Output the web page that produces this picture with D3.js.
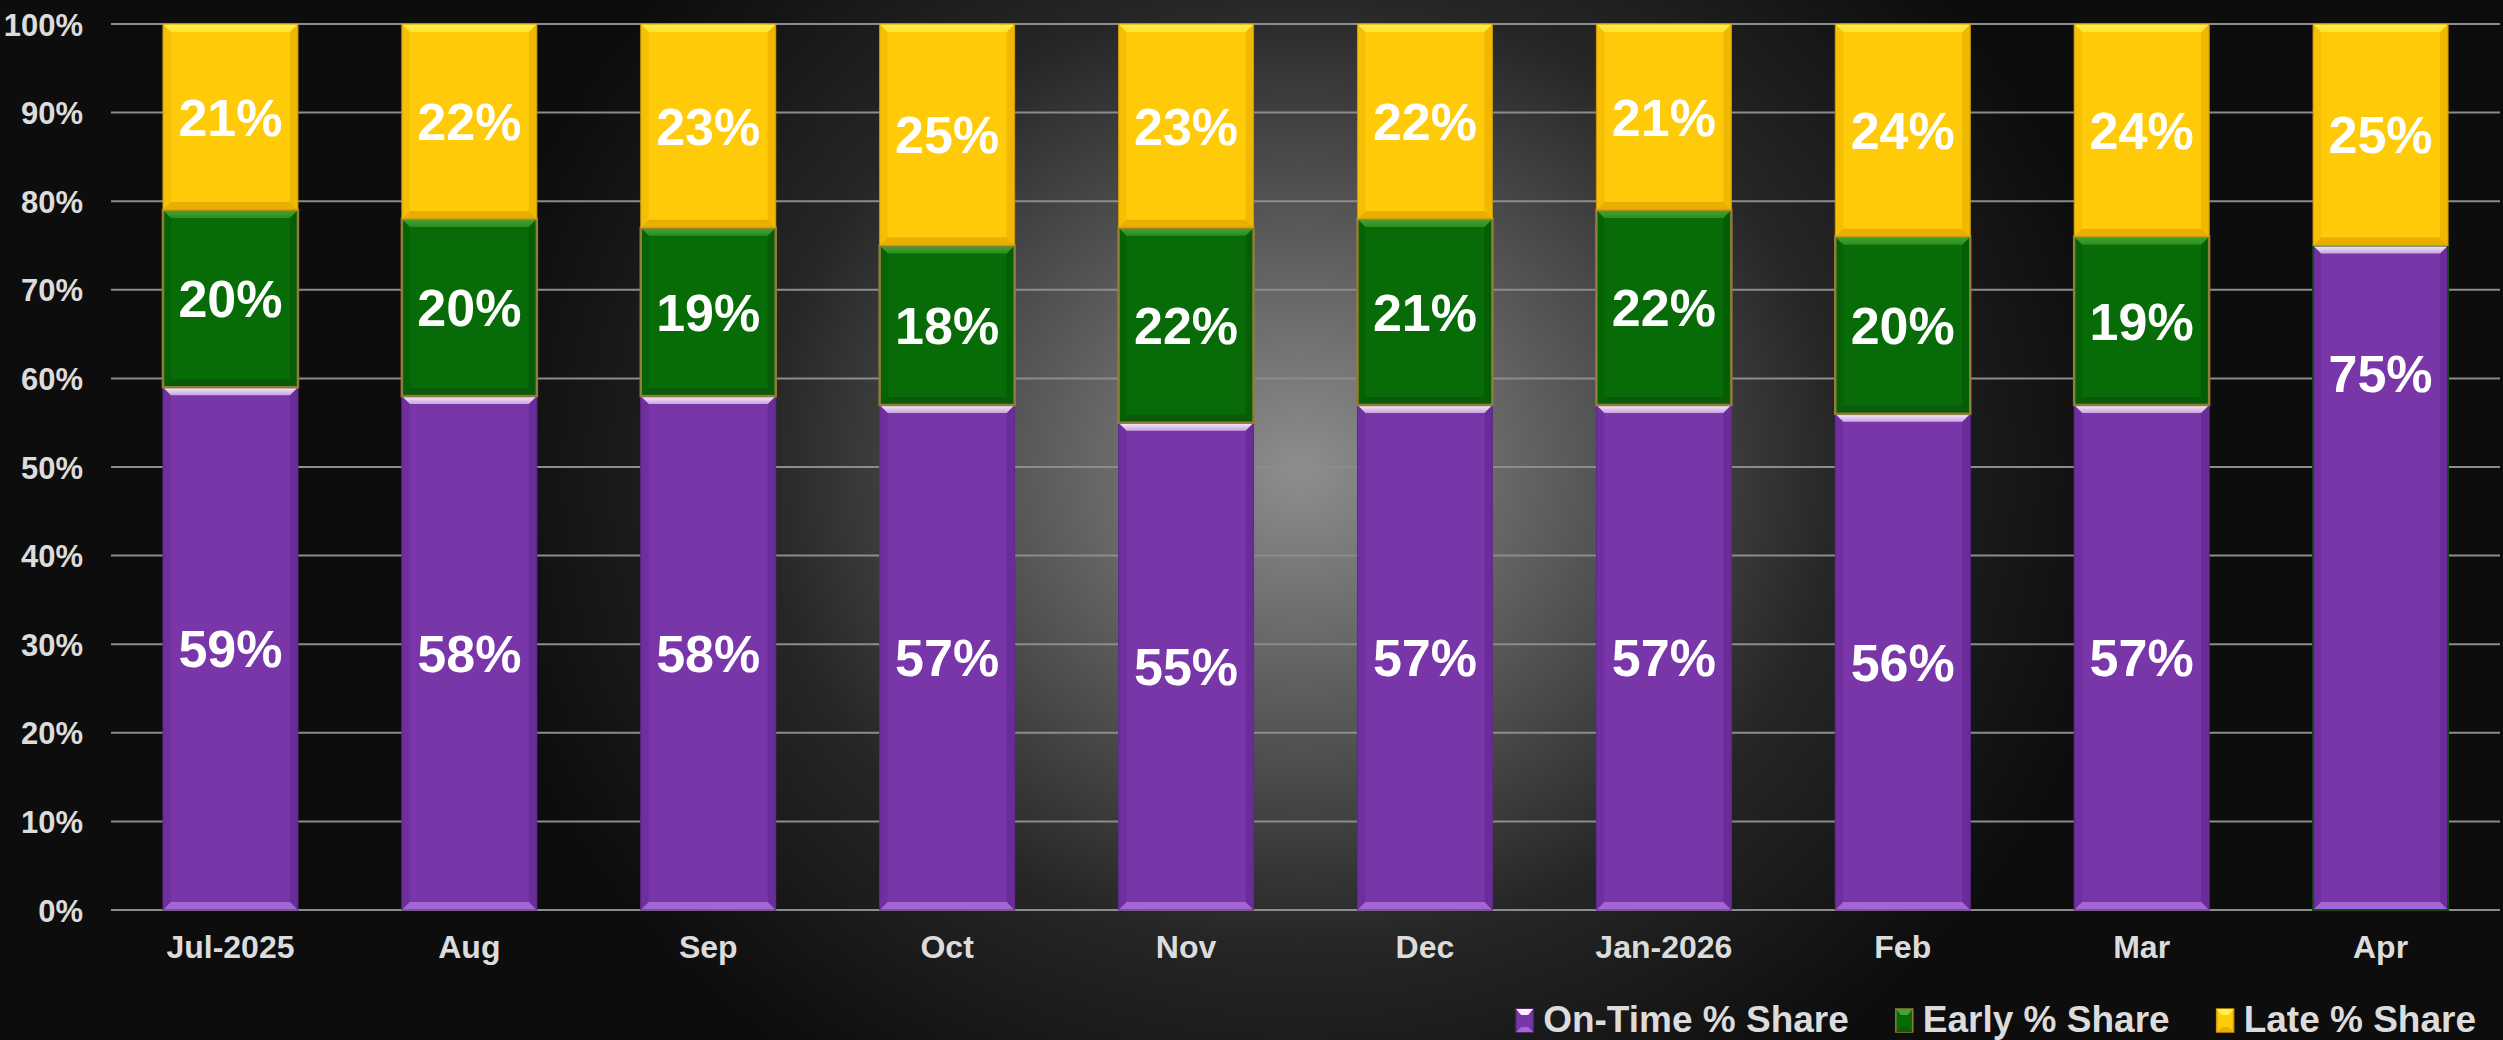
<!DOCTYPE html>
<html>
<head>
<meta charset="utf-8">
<script src="https://cdn.jsdelivr.net/npm/d3@7"></script>
<style>
  html, body { margin: 0; padding: 0; background: #0d0d0d; overflow: hidden; }
  text { font-family: "Liberation Sans", Arial, sans-serif; font-weight: bold; }
</style>
</head>
<body>
<div id="viz"></div>
<script>
var months = ['Jul-2025', 'Aug', 'Sep', 'Oct', 'Nov', 'Dec', 'Jan-2026', 'Feb', 'Mar', 'Apr'];
var onTime = [59, 58, 58, 57, 55, 57, 57, 56, 57, 75];
var early  = [20, 20, 19, 18, 22, 21, 22, 20, 19, 0];
var late   = [21, 22, 23, 25, 23, 22, 21, 24, 24, 25];
var yTicks = [0, 10, 20, 30, 40, 50, 60, 70, 80, 90, 100];
var seriesNames = ['On-Time % Share', 'Early % Share', 'Late % Share'];

var width = 2503, height = 1040;
var margin = {top: 24, bottom: 130, left: 111, right: 3};

// series styles: base, top bevel, bottom bevel, stroke
var styles = [
  {base: '#7836a9', top: '#fbeeff', bottom: '#a366d6', side: '#6a2c98', stroke: '#5f2a88', sw: 1},
  {base: '#076b07', top: '#44a431', bottom: '#0b5a0b', side: '#055d05', stroke: '#8f7d38', sw: 2.5},
  {base: '#ffca08', top: '#fff04a', bottom: '#e8ae00', side: '#f0b800', stroke: '#c9980e', sw: 1}
];

var svg = d3.select('#viz').append('svg')
  .attr('width', width)
  .attr('height', height);

var defs = svg.append('defs');

var bg = defs.append('radialGradient')
  .attr('id', 'bg')
  .attr('gradientUnits', 'userSpaceOnUse')
  .attr('cx', 1300).attr('cy', 470).attr('r', 830)
  .attr('gradientTransform', 'translate(1300,470) scale(1,0.88) translate(-1300,-470)');
bg.append('stop').attr('offset', 0).attr('stop-color', '#8e8e8e');
bg.append('stop').attr('offset', 0.3).attr('stop-color', '#5e5e5e');
bg.append('stop').attr('offset', 0.65).attr('stop-color', '#262626');
bg.append('stop').attr('offset', 1).attr('stop-color', '#0d0d0d');

defs.append('filter').attr('id', 'blur')
  .attr('x', '-5%').attr('y', '-200%').attr('width', '110%').attr('height', '500%')
  .append('feGaussianBlur').attr('stdDeviation', 2);

styles.forEach(function(s, i) {
  var g = defs.append('linearGradient').attr('id', 'topg' + i)
    .attr('x1', 0).attr('y1', 0).attr('x2', 0).attr('y2', 1);
  g.append('stop').attr('offset', 0).attr('stop-color', s.top);
  g.append('stop').attr('offset', 1).attr('stop-color', d3.interpolateRgb(s.top, s.base)(0.4));
});

svg.append('rect')
  .attr('width', width).attr('height', height)
  .attr('fill', 'url(#bg)');

var x = d3.scaleBand()
  .domain(months)
  .range([margin.left, width - margin.right])
  .paddingInner(0.435)
  .paddingOuter(0.2175);

var y = d3.scaleLinear()
  .domain([0, 100])
  .range([height - margin.bottom, margin.top]);

// gridlines + soft shadow
var grid = svg.append('g');
grid.selectAll('.shadow').data(yTicks)
  .enter().append('line')
  .attr('x1', margin.left).attr('x2', width - margin.right)
  .attr('y1', function(d) { return y(d) + 9; })
  .attr('y2', function(d) { return y(d) + 9; })
  .attr('stroke', '#ffffff').attr('stroke-opacity', 0.3)
  .attr('stroke-width', 8)
  .attr('filter', 'url(#blur)');
grid.selectAll('.gl').data(yTicks)
  .enter().append('line')
  .attr('x1', margin.left).attr('x2', width - margin.right)
  .attr('y1', function(d) { return y(d); })
  .attr('y2', function(d) { return y(d); })
  .attr('stroke', '#8c8c8c')
  .attr('stroke-width', 2);

// y axis labels
var yAxis = d3.axisLeft(y).tickValues(yTicks).tickFormat(function(d) { return d + '%'; }).tickSize(0).tickPadding(0);
svg.append('g')
  .attr('transform', 'translate(83,0)')
  .call(yAxis)
  .call(function(g) { g.select('.domain').remove(); })
  .selectAll('text')
  .attr('fill', '#dcdcdc')
  .attr('font-size', 31)
  .attr('dy', '0.36em')
  .style('font-family', '"Liberation Sans", Arial, sans-serif')
  .style('font-weight', 'bold');

// x axis labels
var xAxis = d3.axisBottom(x).tickSize(0).tickPadding(0);
svg.append('g')
  .attr('transform', 'translate(0,' + (height - margin.bottom) + ')')
  .call(xAxis)
  .call(function(g) { g.select('.domain').remove(); })
  .selectAll('text')
  .attr('fill', '#dcdcdc')
  .attr('font-size', 32)
  .attr('y', 48)
  .attr('dy', 0)
  .style('font-family', '"Liberation Sans", Arial, sans-serif')
  .style('font-weight', 'bold');

// stacked segments
var segs = [];
months.forEach(function(m, i) {
  var vals = [onTime[i], early[i], late[i]];
  var base = 0;
  vals.forEach(function(v, k) {
    if (v > 0) segs.push({month: m, idx: i, k: k, y0: base, y1: base + v, v: v, partial: k === 0 && early[i] === 0});
    base += v;
  });
});

var bevel = 8;
var segG = svg.append('g').selectAll('g').data(segs).enter().append('g');

segG.append('rect')
  .attr('x', function(d) { return x(d.month); })
  .attr('y', function(d) { return y(d.y1); })
  .attr('width', x.bandwidth())
  .attr('height', function(d) { return y(d.y0) - y(d.y1); })
  .attr('fill', function(d) { return styles[d.k].base; });

// right side shade
segG.append('path')
  .attr('d', function(d) {
    var x0 = x(d.month), x1 = x0 + x.bandwidth(), t = y(d.y1), b = y(d.y0);
    return 'M' + x1 + ',' + t + 'L' + x1 + ',' + b + 'L' + (x1 - bevel) + ',' + (b - bevel) + 'L' + (x1 - bevel) + ',' + (t + bevel) + 'Z';
  })
  .attr('fill', function(d) { return styles[d.k].side; });

// left side shade
segG.append('path')
  .attr('d', function(d) {
    var x0 = x(d.month), t = y(d.y1), b = y(d.y0);
    return 'M' + x0 + ',' + t + 'L' + x0 + ',' + b + 'L' + (x0 + bevel) + ',' + (b - bevel) + 'L' + (x0 + bevel) + ',' + (t + bevel) + 'Z';
  })
  .attr('fill', function(d) { return styles[d.k].side; })
  .attr('opacity', 0.6);

// bottom bevel
segG.append('path')
  .attr('d', function(d) {
    var x0 = x(d.month), x1 = x0 + x.bandwidth(), b = y(d.y0);
    return 'M' + x0 + ',' + b + 'L' + x1 + ',' + b + 'L' + (x1 - bevel) + ',' + (b - bevel) + 'L' + (x0 + bevel) + ',' + (b - bevel) + 'Z';
  })
  .attr('fill', function(d) { return styles[d.k].bottom; });

// top bevel
segG.append('path')
  .attr('d', function(d) {
    var x0 = x(d.month), x1 = x0 + x.bandwidth(), t = y(d.y1);
    return 'M' + x0 + ',' + t + 'L' + x1 + ',' + t + 'L' + (x1 - bevel) + ',' + (t + bevel) + 'L' + (x0 + bevel) + ',' + (t + bevel) + 'Z';
  })
  .attr('fill', function(d) { return 'url(#topg' + d.k + ')'; });

// outline
segG.append('rect')
  .attr('x', function(d) { return x(d.month); })
  .attr('y', function(d) { return y(d.y1); })
  .attr('width', x.bandwidth())
  .attr('height', function(d) { return y(d.y0) - y(d.y1); })
  .attr('fill', 'none')
  .attr('stroke', function(d) { return d.partial ? '#0f4a12' : styles[d.k].stroke; })
  .attr('stroke-width', function(d) { return d.partial ? 2 : styles[d.k].sw; });

// value labels
svg.append('g').selectAll('text').data(segs)
  .enter().append('text')
  .attr('x', function(d) { return x(d.month) + x.bandwidth() / 2; })
  .attr('y', function(d) {
    // Apr on-time label sits near the top of its bar
    if (d.partial) return y(d.y1) + 128;
    return (y(d.y0) + y(d.y1)) / 2;
  })
  .attr('dy', '0.36em')
  .attr('text-anchor', 'middle')
  .attr('fill', '#ffffff')
  .attr('font-size', 52)
  .text(function(d) { return d.v + '%'; });

// legend, right aligned
var legend = svg.append('g');
var legendRight = 2476, legendBase = 1032, legendGap = 47;
var items = seriesNames.map(function(name, k) {
  var t = legend.append('text')
    .attr('y', legendBase)
    .attr('fill', '#dcdcdc')
    .attr('font-size', 37)
    .text(name);
  return {t: t, w: t.node().getComputedTextLength(), k: k};
});
var cx = legendRight;
for (var j = items.length - 1; j >= 0; j--) {
  var it = items[j];
  cx -= it.w;
  it.t.attr('x', cx);
  var mx = cx - 10 - 17;
  var st = styles[it.k];
  legend.append('rect')
    .attr('x', mx).attr('y', legendBase - 23)
    .attr('width', 17).attr('height', 23)
    .attr('fill', st.base)
    .attr('stroke', st.stroke).attr('stroke-width', 1.5);
  legend.append('path')
    .attr('d', 'M' + mx + ',' + (legendBase - 23) + 'l17,0l-5,6l-7,0Z')
    .attr('fill', st.top);
  legend.append('path')
    .attr('d', 'M' + mx + ',' + legendBase + 'l17,0l-5,-5l-7,0Z')
    .attr('fill', st.bottom);
  cx = mx - legendGap;
}
</script>
</body>
</html>
